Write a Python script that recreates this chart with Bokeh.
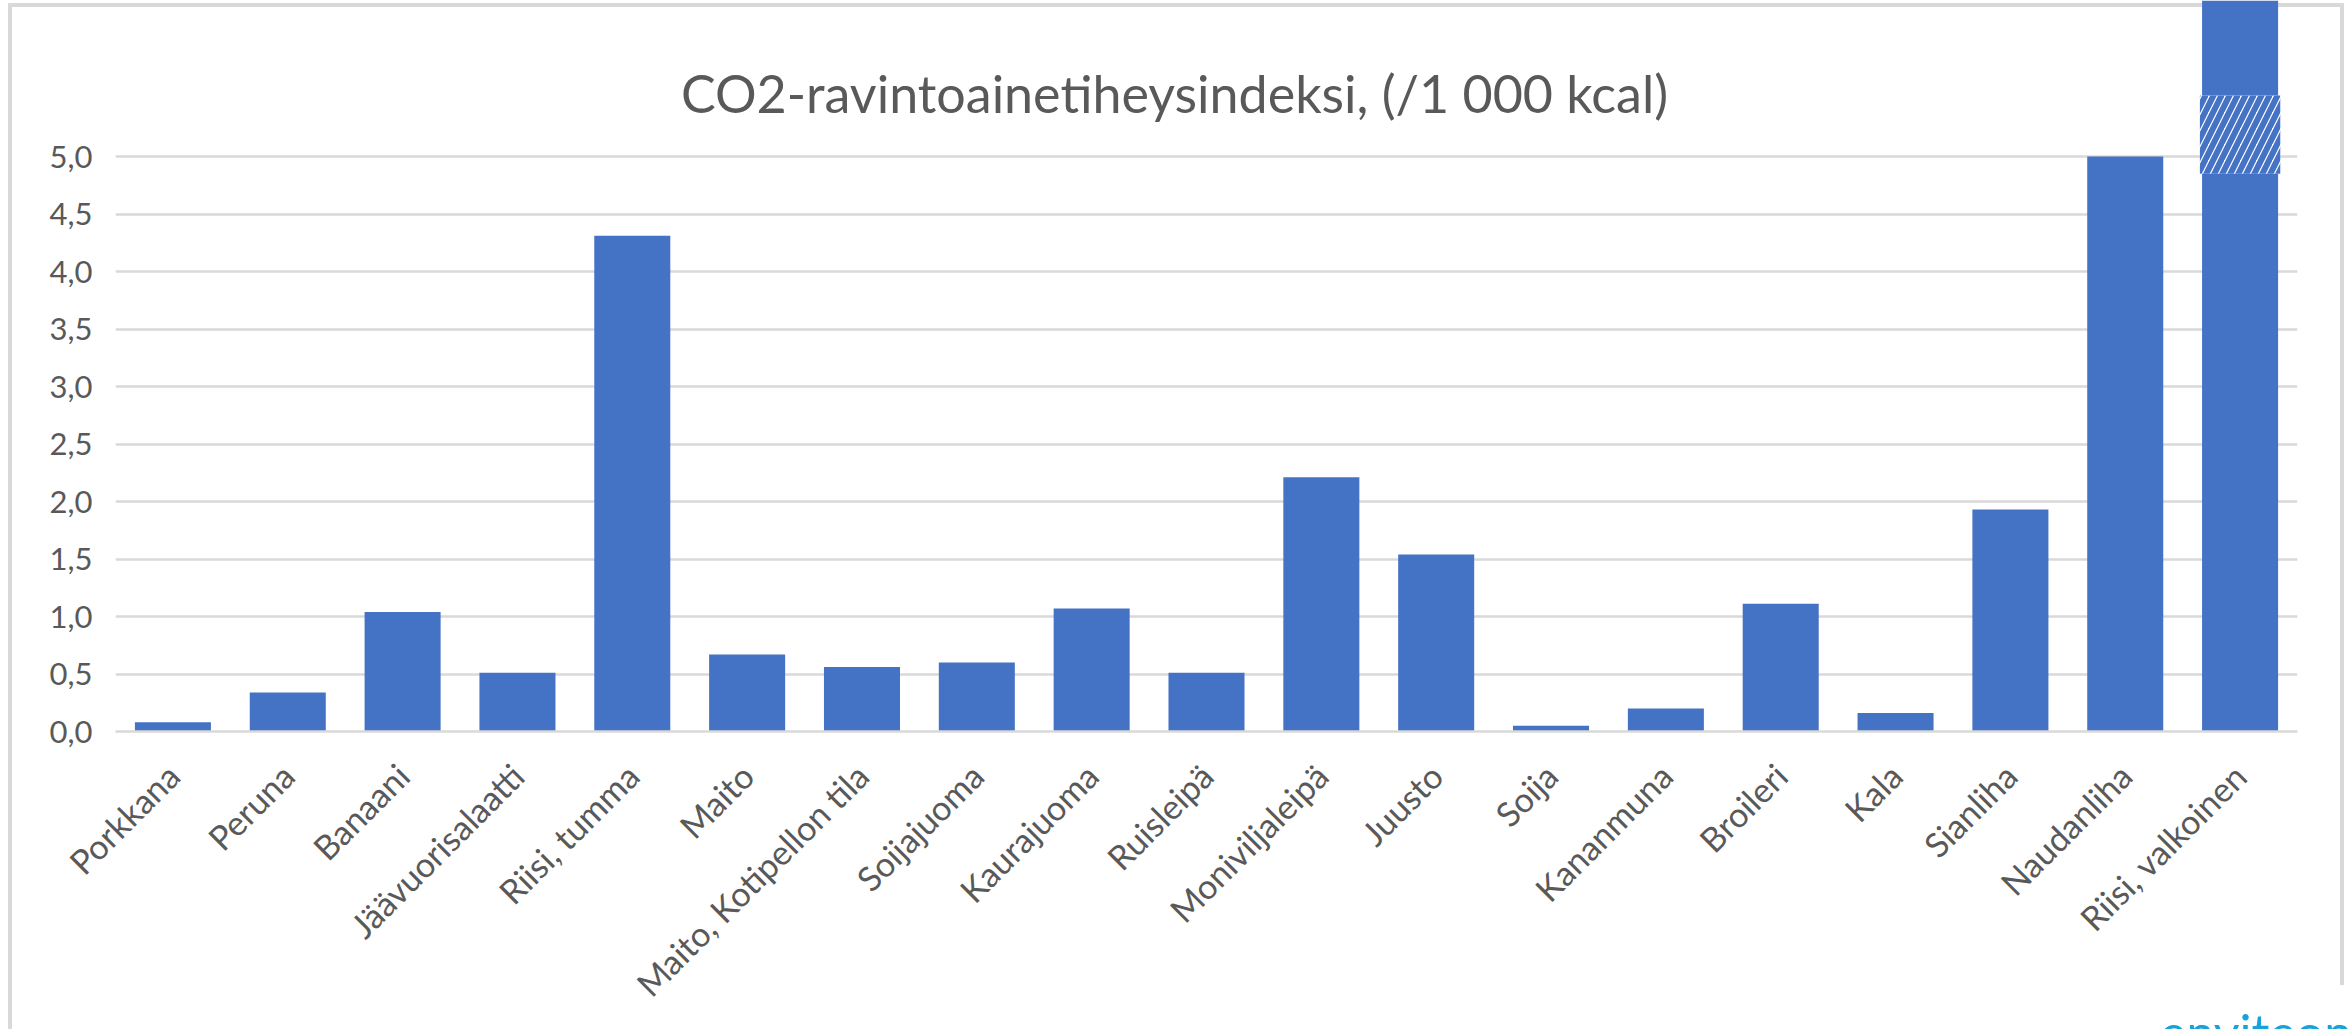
import math
from bokeh.plotting import figure
from bokeh.models import Range1d, FixedTicker, CustomJSTickFormatter, Label, ColumnDataSource, InlineStyleSheet
from bokeh.embed import file_html
from bokeh.resources import INLINE

categories = ["Porkkana", "Peruna", "Banaani", "Jäävuorisalaatti", "Riisi, tumma", "Maito",
              "Maito, Kotipellon tila", "Soijajuoma", "Kaurajuoma", "Ruisleipä", "Moniviljaleipä",
              "Juusto", "Soija", "Kananmuna", "Broileri", "Kala", "Sianliha", "Naudanliha",
              "Riisi, valkoinen"]
values = [0.08, 0.34, 1.04, 0.51, 4.31, 0.67, 0.56, 0.60, 1.07, 0.51, 2.21, 1.54, 0.05,
          0.20, 1.11, 0.16, 1.93, 5.00, 6.50]
y_ticks = [0.0, 0.5, 1.0, 1.5, 2.0, 2.5, 3.0, 3.5, 4.0, 4.5, 5.0]
y_tick_labels = ["0,0", "0,5", "1,0", "1,5", "2,0", "2,5", "3,0", "3,5", "4,0", "4,5", "5,0"]
title_text = "CO2-ravintoainetiheysindeksi, (/1 000 kcal)"
offscale_category = ["Riisi, valkoinen"]
break_low = [4.85]
break_high = [5.53]
logo_text = "enviteon"

BLUE = "#4472C4"
GREY_TXT = "#595959"
GRID = "#d9d9d9"
FONT = "Lato"

W, H = 2351, 1029
FRAME_LEFT, FRAME_RIGHT_BORDER = 115, 54
FRAME_BOTTOM = 731
PX_PER_UNIT = 115.0

p = figure(x_range=categories, width=W, height=H, output_backend="svg", toolbar_location=None,
           min_border_left=FRAME_LEFT, min_border_right=FRAME_RIGHT_BORDER,
           min_border_top=0, min_border_bottom=H - FRAME_BOTTOM)
p.y_range = Range1d(0, FRAME_BOTTOM / PX_PER_UNIT)
p.x_range.range_padding = 0
p.outline_line_color = None
# transparent canvas: the chart-area border below is painted by the page element behind it
p.background_fill_color = None
p.border_fill_color = None

p.styles = {
    "background-color": "white",
    "background-image": ", ".join([f"linear-gradient({GRID}, {GRID})"] * 3),
    "background-size": "4px 1026px, 2336px 4px, 4px 982px",
    "background-position": "8px 3px, 8px 3px, 2340px 3px",
    "background-repeat": "no-repeat",
}
p.stylesheets = [InlineStyleSheet(css=f"""
:host::after {{
  content: "{logo_text}";
  position: absolute;
  left: 2160px;
  top: 1007px;
  font-family: '{FONT}';
  font-size: 50px;
  line-height: 50px;
  color: #15a3d9;
  white-space: nowrap;
  pointer-events: none;
}}
""")]


def sx(canvas_x):
    return canvas_x - FRAME_LEFT


def sy(canvas_y):
    return FRAME_BOTTOM - canvas_y


src = ColumnDataSource(dict(x=categories, top=values))
p.vbar(x="x", top="top", bottom=0, width=0.662, source=src, fill_color=BLUE, line_color=None)

bsrc = ColumnDataSource(dict(x=offscale_category, bottom=break_low, top=break_high))
p.vbar(x="x", bottom="bottom", top="top", width=0.70, source=bsrc, fill_color="white",
       line_color=None, hatch_pattern="/", hatch_color=BLUE, hatch_scale=16, hatch_weight=6)

# axes
p.yaxis.ticker = FixedTicker(ticks=y_ticks)
p.yaxis.formatter = CustomJSTickFormatter(args=dict(tvals=y_ticks, tlabels=y_tick_labels), code="""
let best = 0, bd = 1e9;
for (let i = 0; i < tvals.length; i++) { const d = Math.abs(tvals[i] - tick); if (d < bd) { bd = d; best = i; } }
return tlabels[best];
""")
p.yaxis.axis_line_color = None
p.yaxis.major_tick_line_color = None
p.yaxis.minor_tick_line_color = None
p.yaxis.major_label_standoff = 17
p.yaxis.major_label_text_font = FONT
p.yaxis.major_label_text_font_size = "31px"
p.yaxis.major_label_text_color = GREY_TXT

p.xaxis.major_label_orientation = math.pi / 4
p.xaxis.axis_line_color = GRID
p.xaxis.axis_line_width = 2.5
p.xaxis.major_tick_line_color = None
p.xaxis.minor_tick_line_color = None
p.xaxis.major_label_standoff = 32
p.xaxis.major_label_text_font = FONT
p.xaxis.major_label_text_font_size = "34px"
p.xaxis.major_label_text_color = GREY_TXT

p.xgrid.grid_line_color = None
p.ygrid.grid_line_color = GRID
p.ygrid.grid_line_width = 2.5

title = Label(x=sx(1174), y=sy(92), x_units="screen", y_units="screen",
              text=title_text, text_align="center", text_baseline="alphabetic",
              text_font=FONT, text_font_size="52px", text_color=GREY_TXT)
p.add_layout(title)

open("out.html", "w").write(file_html(p, INLINE))
